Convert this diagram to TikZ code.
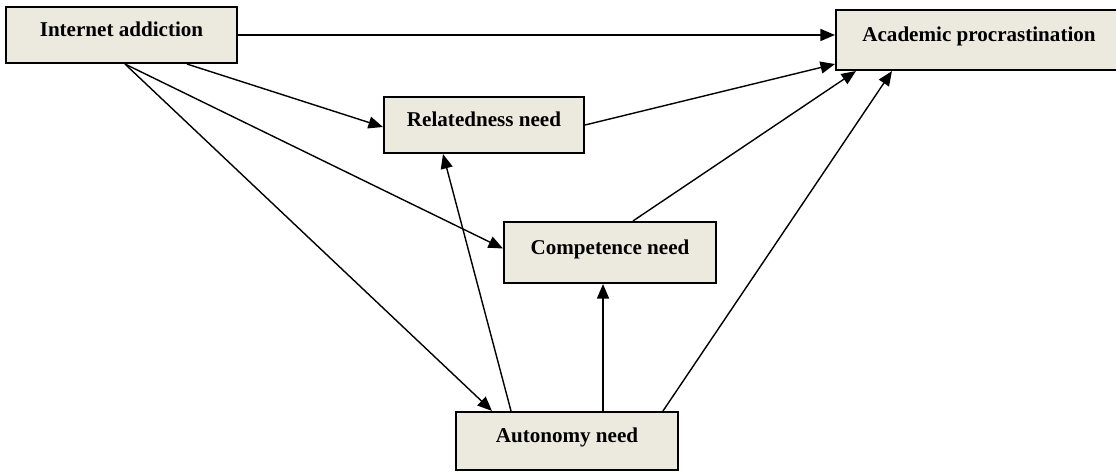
\documentclass[tikz,border=0pt]{standalone}
\usepackage{fontspec}
\setmainfont{Liberation Serif}
\usepackage{tikz, xcolor}
\usetikzlibrary{arrows.meta, calc}
\definecolor{boxfill}{RGB}{236,233,223}

\begin{document}
\begin{tikzpicture}[x=0.02cm, y=-0.02cm,
    box/.style={draw, fill=boxfill, line width=1.2pt, inner sep=0pt,
        font=\bfseries\fontsize{12}{14}\selectfont,
        text height=0.7em, text depth=0.5em},
    link/.style={line width=0.8pt, -{Triangle[length=0.29cm, width=0.24cm]}}]
    % Frame
    \useasboundingbox (0,0) rectangle (1116,472);
    % Boxes
    \node[box, minimum width=4.62cm, minimum height=1.12cm] (ia) at (121.5,35) {Internet addiction};
    \node[box, minimum width=5.72cm, minimum height=1.2cm] (ap) at (979,40) {Academic procrastination};
    \node[box, minimum width=4cm, minimum height=1.12cm] (rn) at (484,125) {Relatedness need};
    \node[box, minimum width=4.24cm, minimum height=1.22cm] (cn) at (610,252.5) {Competence need};
    \node[box, minimum width=4.44cm, minimum height=1.16cm] (an) at (567,441) {Autonomy need};
    % Arrows from Internet addiction
    \draw[link] (ia.east) -- (ia.east -| ap.west);
    \draw[link] ($(ia.south)+(65.5,0)$) -- ($(rn.west)+(0,2)$);
    \draw[link] ($(ia.south)+(3.5,0)$) -- ($(cn.west)+(0,-4)$);
    \draw[link] ($(ia.south)+(3.5,0)$) -- ($(an.north)+(-75,0)$);
    % Arrows into Academic procrastination
    \draw[link] (rn.east) -- ($(ap.south west)+(0,-7)$);
    \draw[link] ($(cn.north)+(23,0)$) -- ($(ap.south west)+(21,0)$);
    \draw[link] ($(an.north)+(96,0)$) -- ($(ap.south west)+(57,0)$);
    % Arrows from Autonomy need
    \draw[link] ($(an.north)+(-56,0)$) -- ($(rn.south)+(-41,0)$);
    \draw[link] ($(an.north)+(36,0)$) -- ($(cn.south)+(-7,0)$);
\end{tikzpicture}
\end{document}
